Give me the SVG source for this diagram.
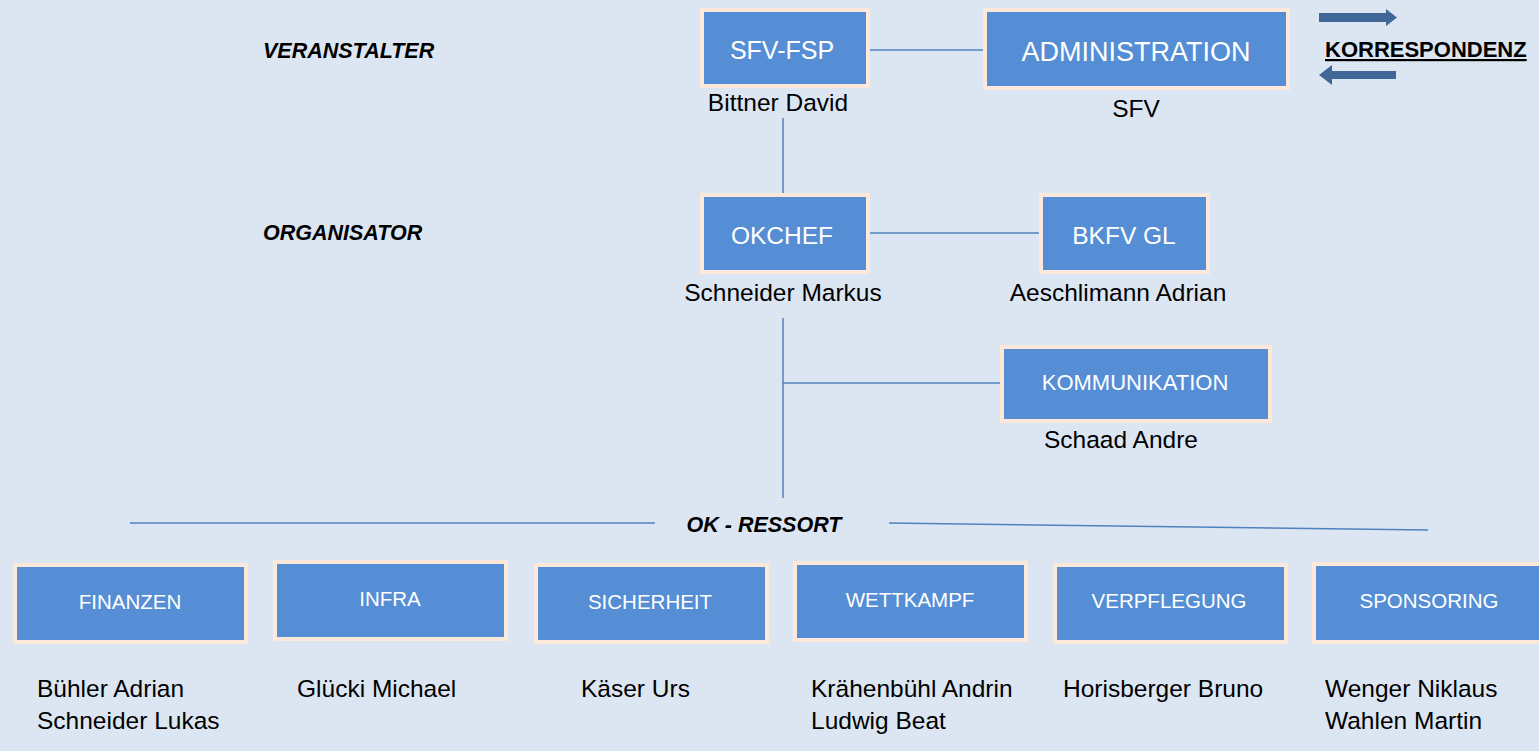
<svg xmlns="http://www.w3.org/2000/svg" width="1539" height="751" viewBox="0 0 1539 751">
<defs>
<style>
.bg{fill:#dce6f2}
.box{fill:#558ed5;stroke:#fde9d9;stroke-width:4}
.bt{font-family:"Liberation Sans",Arial,sans-serif;fill:#ffffff;text-anchor:middle}
.nm{font-family:"Liberation Sans",Arial,sans-serif;fill:#000000;font-size:24.5px}
.lbl{font-family:"Liberation Sans",Arial,sans-serif;font-weight:bold;font-style:italic;font-size:21.5px;fill:#000000}
.ln{stroke:#4f81bd;stroke-width:1.5;fill:none}
.arr{fill:#3f6899}
</style>
</defs>
<rect class="bg" x="0" y="0" width="1539" height="751"/>

<text class="lbl" x="263" y="58">VERANSTALTER</text>
<text class="lbl" x="263" y="240">ORGANISATOR</text>
<text class="lbl" x="764" y="532" text-anchor="middle">OK - RESSORT</text>

<g id="korrespondenz">
<polygon class="arr" points="1319,13 1386,13 1386,9 1397,17.5 1386,26 1386,22 1319,22"/>
<polygon class="arr" points="1396,71 1332,71 1332,65 1319,75 1332,85 1332,79 1396,79"/>
<text x="1325" y="57" font-family="Liberation Sans,Arial,sans-serif" font-weight="bold" font-size="22" fill="#000" text-decoration="underline">KORRESPONDENZ</text>
</g>

<g id="connectors">
<line class="ln" x1="856" y1="50" x2="987" y2="50"/>
<line class="ln" x1="783" y1="118" x2="783" y2="195"/>
<line class="ln" x1="869" y1="233" x2="1040" y2="233"/>
<line class="ln" x1="783" y1="318" x2="783" y2="498"/>
<line class="ln" x1="783" y1="383" x2="1002" y2="383"/>
<line class="ln" x1="130" y1="523" x2="655" y2="523"/>
<line class="ln" x1="889" y1="523" x2="1428" y2="530"/>
</g>

<g id="sfv-fsp">
<rect class="box" x="702" y="10" width="166" height="76"/>
<text class="bt" x="782" y="59" font-size="25">SFV-FSP</text>
<text class="nm" x="778" y="111" text-anchor="middle">Bittner David</text>
</g>
<g id="administration">
<rect class="box" x="985" y="10" width="303" height="78"/>
<text class="bt" x="1136" y="61" font-size="27">ADMINISTRATION</text>
<text class="nm" x="1136" y="117" text-anchor="middle">SFV</text>
</g>
<g id="okchef">
<rect class="box" x="702" y="195" width="166" height="77"/>
<text class="bt" x="782" y="244" font-size="24.5">OKCHEF</text>
<text class="nm" x="783" y="301" text-anchor="middle">Schneider Markus</text>
</g>
<g id="bkfv-gl">
<rect class="box" x="1041" y="195" width="167" height="77"/>
<text class="bt" x="1124" y="244" font-size="24.5">BKFV GL</text>
<text class="nm" x="1118" y="301" text-anchor="middle">Aeschlimann Adrian</text>
</g>
<g id="kommunikation">
<rect class="box" x="1002" y="347" width="268" height="74"/>
<text class="bt" x="1135" y="390" font-size="22">KOMMUNIKATION</text>
<text class="nm" x="1121" y="448" text-anchor="middle">Schaad Andre</text>
</g>

<g id="finanzen">
<rect class="box" x="15" y="565" width="231" height="77"/>
<text class="bt" x="130" y="609" font-size="20.5">FINANZEN</text>
<text class="nm" x="37" y="697">Bühler Adrian</text>
<text class="nm" x="37" y="729">Schneider Lukas</text>
</g>
<g id="infra">
<rect class="box" x="275" y="562" width="231" height="77"/>
<text class="bt" x="390" y="606" font-size="20.5">INFRA</text>
<text class="nm" x="297" y="697">Glücki Michael</text>
</g>
<g id="sicherheit">
<rect class="box" x="536" y="565" width="231" height="77"/>
<text class="bt" x="650" y="609" font-size="20.5">SICHERHEIT</text>
<text class="nm" x="581" y="697">Käser Urs</text>
</g>
<g id="wettkampf">
<rect class="box" x="795" y="563" width="231" height="77"/>
<text class="bt" x="910" y="607" font-size="20.5">WETTKAMPF</text>
<text class="nm" x="811" y="697">Krähenbühl Andrin</text>
<text class="nm" x="811" y="729">Ludwig Beat</text>
</g>
<g id="verpflegung">
<rect class="box" x="1055" y="565" width="231" height="77"/>
<text class="bt" x="1169" y="608" font-size="20.5">VERPFLEGUNG</text>
<text class="nm" x="1063" y="697">Horisberger Bruno</text>
</g>
<g id="sponsoring">
<rect class="box" x="1314" y="564" width="231" height="78"/>
<text class="bt" x="1429" y="608" font-size="20.5">SPONSORING</text>
<text class="nm" x="1325" y="697">Wenger Niklaus</text>
<text class="nm" x="1325" y="729">Wahlen Martin</text>
</g>
</svg>
